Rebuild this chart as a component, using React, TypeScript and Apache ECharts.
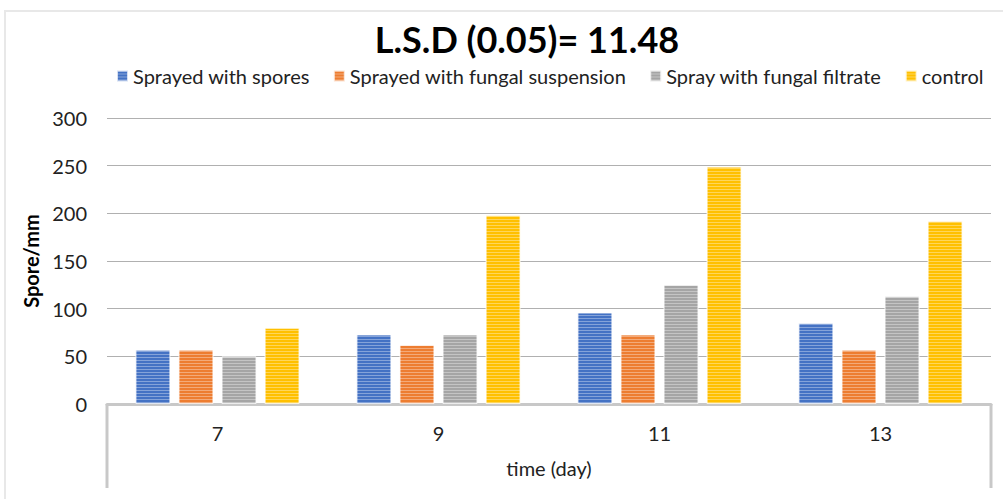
import React, { useEffect, useRef } from "react";
import * as echarts from "echarts";

const categories = ["7", "9", "11", "13"];
const seriesNames = [
  "Sprayed with spores",
  "Sprayed with fungal suspension",
  "Spray with fungal filtrate",
  "control",
];
const sprayedSpores = [57, 73, 96, 85];
const sprayedSuspension = [57, 62, 73, 57];
const sprayFiltrate = [50, 73, 125, 113];
const control = [80, 198, 249, 192];
const yTicks = { min: 0, max: 300, interval: 50 };
const colors = ["#4472C4", "#ED7D31", "#A5A5A5", "#FFC000"];

const W = 1003;
const H = 499;
const GRID = { left: 107, right: 12, top: 118, bottom: 95 };
const FONT = "Lato, 'Open Sans', sans-serif";

export default function App() {
  const ref = useRef<HTMLDivElement>(null);
  useEffect(() => {
    document.body.style.margin = "0";
    const chart = echarts.init(ref.current!, undefined, { renderer: "svg" });
    const values = [sprayedSpores, sprayedSuspension, sprayFiltrate, control];
    const axisY = H - GRID.bottom;
    const boxBottom = 488;
    const decal = {
      symbol: "rect",
      symbolSize: 1,
      dashArrayX: [5, 0],
      dashArrayY: [1, 2],
      color: "rgba(255,255,255,0.35)",
      rotation: 0,
    };
    chart.setOption({
      animation: false,
      aria: { enabled: true, decal: { show: true } },
      title: {
        text: "L.S.D (0.05)= 11.48",
        left: 522,
        textAlign: "center",
        top: 16,
        textStyle: { fontSize: 36, fontWeight: "bold", color: "#000", fontFamily: FONT },
      },
      legend: {
        data: seriesNames,
        left: 111,
        top: 61,
        itemWidth: 11,
        itemHeight: 11,
        itemGap: 23,
        icon: "rect",
        textStyle: { fontSize: 20, color: "#222", fontFamily: FONT },
      },
      grid: { ...GRID, containLabel: false },
      xAxis: {
        type: "category",
        data: categories,
        name: "time (day)",
        nameLocation: "middle",
        nameGap: 54,
        nameTextStyle: { fontSize: 20, color: "#222", fontFamily: FONT },
        axisLine: { lineStyle: { color: "#c8c8c8", width: 3 } },
        axisTick: { show: false },
        axisLabel: { fontSize: 20, color: "#222", margin: 19, fontFamily: FONT },
      },
      yAxis: {
        type: "value",
        ...yTicks,
        name: "Spore/mm",
        nameLocation: "middle",
        nameGap: 62,
        nameTextStyle: { fontSize: 20, fontWeight: "bold", color: "#000", fontFamily: FONT },
        axisLine: { show: false },
        axisTick: { show: false },
        axisLabel: { fontSize: 20, color: "#222", margin: 20, fontFamily: FONT },
        splitLine: { lineStyle: { color: "#b0b0b0", width: 1 } },
      },
      graphic: [
        {
          type: "rect",
          shape: { x: 5, y: 11, width: W + 20, height: H + 20 },
          style: { fill: "none", stroke: "#e8e8e8", lineWidth: 2 },
          silent: true,
        },
        {
          type: "line",
          shape: { x1: GRID.left, y1: axisY, x2: GRID.left, y2: boxBottom },
          style: { stroke: "#c8c8c8", lineWidth: 3 },
          silent: true,
        },
        {
          type: "line",
          shape: { x1: W - GRID.right, y1: axisY, x2: W - GRID.right, y2: boxBottom },
          style: { stroke: "#c8c8c8", lineWidth: 3 },
          silent: true,
        },
      ],
      series: seriesNames.map((name, i) => ({
        name,
        type: "bar",
        data: values[i],
        barWidth: 35,
        barGap: "23%",
        itemStyle: {
          color: colors[i],
          borderColor: "rgba(255,255,255,0.5)",
          borderWidth: 1,
          decal,
        },
      })),
    });
    return () => chart.dispose();
  }, []);
  return <div ref={ref} style={{ width: W, height: H }} />;
}
